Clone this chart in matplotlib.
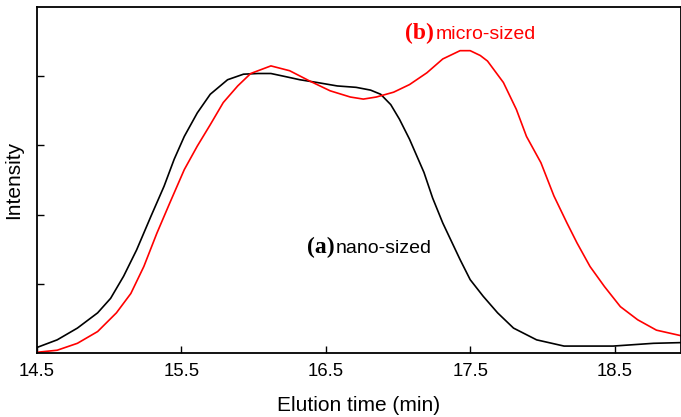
import matplotlib.pyplot as plt

plt.rcParams["font.family"] = ["Liberation Sans", "DejaVu Sans"]

# nano-sized (a), black trace
t_nano = [14.50, 14.64, 14.78, 14.92, 15.01, 15.10, 15.19, 15.29, 15.38, 15.45,
          15.52, 15.61, 15.70, 15.82, 15.93, 16.03, 16.12, 16.21, 16.32, 16.44,
          16.58, 16.71, 16.81, 16.88, 16.95, 17.01, 17.08, 17.13, 17.18, 17.24,
          17.31, 17.43, 17.50, 17.59, 17.69, 17.80, 17.96, 18.15, 18.49, 18.63,
          18.77, 18.96]
i_nano = [0.08, 0.19, 0.36, 0.58, 0.79, 1.11, 1.49, 1.98, 2.41, 2.80,
          3.13, 3.47, 3.74, 3.95, 4.03, 4.04, 4.04, 4.00, 3.95, 3.91,
          3.86, 3.84, 3.80, 3.74, 3.59, 3.38, 3.09, 2.85, 2.61, 2.24,
          1.88, 1.35, 1.06, 0.82, 0.58, 0.36, 0.19, 0.10, 0.10, 0.12,
          0.14, 0.15]

# micro-sized (b), red trace
t_micro = [14.50, 14.64, 14.78, 14.92, 15.05, 15.15, 15.24, 15.33, 15.42, 15.52,
           15.61, 15.70, 15.79, 15.89, 15.98, 16.12, 16.25, 16.39, 16.53, 16.67,
           16.76, 16.85, 16.97, 17.08, 17.20, 17.31, 17.43, 17.50, 17.57, 17.62,
           17.73, 17.82, 17.89, 17.99, 18.08, 18.17, 18.24, 18.33, 18.43, 18.54,
           18.66, 18.79, 18.96]
i_micro = [0.01, 0.04, 0.14, 0.31, 0.58, 0.86, 1.25, 1.73, 2.17, 2.65,
           2.99, 3.30, 3.62, 3.86, 4.04, 4.15, 4.08, 3.93, 3.79, 3.70,
           3.67, 3.70, 3.77, 3.88, 4.05, 4.25, 4.37, 4.37, 4.30, 4.22,
           3.91, 3.52, 3.13, 2.75, 2.27, 1.88, 1.59, 1.25, 0.96, 0.67,
           0.48, 0.33, 0.25]

xticks = [14.5, 15.5, 16.5, 17.5, 18.5]
yticks = [1, 2, 3, 4]

fig = plt.figure(figsize=(6.81, 4.17), dpi=100)
ax = fig.add_axes([0.0543, 0.1535, 0.9457, 0.8295])

ax.plot(t_nano, i_nano, color="black", lw=1.2)
ax.plot(t_micro, i_micro, color="red", lw=1.2)

ax.set_xlim(14.5, 18.96)
ax.set_ylim(0, 5)
ax.set_xticks(xticks)
ax.set_xticklabels([str(v) for v in xticks])
ax.set_yticks(yticks)
ax.set_yticklabels([])
ax.tick_params(direction="in", length=5, width=1, labelsize=13.3, pad=7)
for s in ax.spines.values():
    s.set_linewidth(1.3)

ax.set_xlabel("Elution time (min)", fontsize=15, labelpad=12)
ax.set_ylabel("Intensity", fontsize=15, labelpad=3)

ax.text(17.05, 4.54, "(b)", color="red", fontsize=17, fontweight="bold",
        family="Liberation Serif", va="baseline")
ax.text(17.26, 4.54, "micro-sized", color="red", fontsize=14, va="baseline")
ax.text(16.37, 1.45, "(a)", color="black", fontsize=17, fontweight="bold",
        family="Liberation Serif", va="baseline")
ax.text(16.57, 1.45, "nano-sized", color="black", fontsize=14, va="baseline")

fig.savefig("out.png", dpi=100)
